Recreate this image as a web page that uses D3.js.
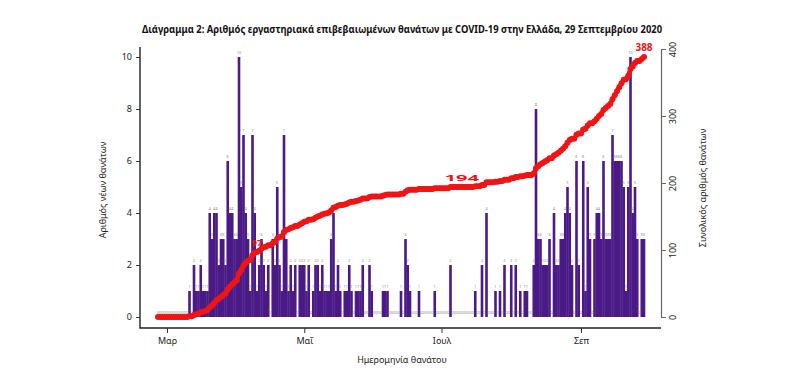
<!DOCTYPE html>
<html><head><meta charset="utf-8">
<script src="https://cdn.jsdelivr.net/npm/d3@7"></script>
<style>body{margin:0;background:#fff} svg{display:block}</style>
</head><body>
<svg id="c" width="804" height="375"></svg>
<script>
const title = "Διάγραμμα 2: Αριθμός εργαστηριακά επιβεβαιωμένων θανάτων με COVID-19 στην Ελλάδα, 29 Σεπτεμβρίου 2020";
const xAxisTitle = "Ημερομηνία θανάτου";
const yLeftTitle = "Αριθμός νέων θανάτων";
const yRightTitle = "Συνολικός αριθμός θανάτων";
const startDate = "2020-02-26";
// daily new deaths, one value per day from 26 Feb to 29 Sep 2020
const dailyDeaths = [
 0,0,0,0, 0,0,0,0,0,0,0,0,0,0,
 1,0,2,1,1,2,1,1,1,4,
 3,4,4,2,3,3,2,6,4,4,
 3,3,10,5,7,4,3,1,7,4,
 1,2,3,2,1,2,0,3,2,5,
 2,1,7,3,1,2,1,2,0,2,
 2,2,1,2,0,1,2,2,1,2,
 1,1,1,3,4,1,2,1,0,1,
 1,2,1,0,1,1,1,2,0,0,
 2,1,0,0,0,0,1,1,1,0,
 0,0,0,0,1,0,3,2,1,0,
 0,0,1,0,0,0,0,0,0,1,
 0,0,0,0,0,0,2,0,0,0,
 0,0,0,0,0,0,0,1,0,0,
 2,0,4,0,0,0,1,0,1,0,
 2,0,0,2,0,2,0,1,0,1,
 1,0,0,2,8,3,3,2,2,2,
 3,0,4,2,2,3,3,4,5,4,
 2,0,6,2,0,6,1,5,3,0,
 3,4,4,3,6,3,3,3,7,6,
 6,6,6,5,1,5,10,4,5,3,
 0,3,3
];
const xTickDates = ["2020-03-01","2020-05-01","2020-07-01","2020-09-01"];
const xTickLabels = ["Μαρ","Μαΐ","Ιουλ","Σεπ"];
const leftTicks = [0,2,4,6,8,10];
const rightTicks = [0,100,200,300,400];
const milestoneValues = [97,194,388];

const parse = d3.utcParse("%Y-%m-%d");
const t0 = parse(startDate);
const days = dailyDeaths.map((v,i)=>({date:d3.utcDay.offset(t0,i), v}));
const cum = d3.cumsum(dailyDeaths);
days.forEach((d,i)=>d.c=cum[i]);

const svg = d3.select("#c");
const x = d3.scaleUtc().domain([parse("2020-03-01"), parse("2020-09-01")]).range([167,581]);
const yL = d3.scaleLinear().domain([0,10]).range([317,57]);
const yR = d3.scaleLinear().domain([0,400]).range([317,49]);
const font = "'Noto Sans', 'Open Sans', sans-serif";
const purple = "#4a1a86";
const red = "#f01414";

// bars
const bw = 2.6;
svg.append("g").selectAll("rect").data(days.filter(d=>d.v>0)).join("rect")
  .attr("x", d=>x(d.date)-bw/2).attr("width", bw)
  .attr("y", d=>yL(d.v)).attr("height", d=>yL(0)-yL(d.v))
  .attr("fill", purple);

// value labels
svg.append("g").selectAll("text").data(days).join("text")
  .attr("x", d=>x(d.date)).attr("y", d=>yL(d.v)-3.5)
  .attr("text-anchor","middle").attr("font-size","4px").attr("font-family",font)
  .attr("fill","#8a8a8a").text(d=>d.v);

// cumulative line
const line = d3.line().x(d=>x(d.date)).y(d=>yR(d.c));
svg.append("path").datum(days).attr("d", line).attr("fill","none")
  .attr("stroke", red).attr("stroke-width", 4.5).attr("stroke-linejoin","round");
svg.append("g").selectAll("circle").data(days).join("circle")
  .attr("cx", d=>x(d.date)).attr("cy", d=>yR(d.c)).attr("r", 3).attr("fill", red);

// milestone labels: one label per milestone, spread over the days at that total
const groups = milestoneValues.map(m=>days.filter(d=>d.c===m)).filter(g=>g.length);
svg.append("g").selectAll("text").data(groups).join("text")
  .each(function(g){
    const x1 = x(g[0].date), x2 = x(g[g.length-1].date);
    const s = d3.select(this)
      .attr("x",(x1+x2)/2).attr("y", yR(g[0].c)-6)
      .attr("text-anchor","middle").attr("font-size", g[0].c===388?"10px":"9px")
      .attr("font-weight","bold").attr("font-family",font).attr("fill", red).text(g[0].c);
    if (g.length>2) s.attr("textLength", x2-x1+12).attr("lengthAdjust","spacingAndGlyphs");
  });

// box (L shape)
svg.append("path").attr("d","M140,47V328H661").attr("fill","none").attr("stroke","#222").attr("stroke-width",1.4);

// left axis
const gL = svg.append("g").attr("transform","translate(140,0)")
  .call(d3.axisLeft(yL).tickValues(leftTicks).tickSize(4).tickPadding(4));
gL.select(".domain").remove();
gL.selectAll("line").attr("stroke","#333");
gL.selectAll("text").attr("font-family",font).attr("font-size","9px").attr("fill","#222");

// right axis
const gR = svg.append("g").attr("transform","translate(661,0)")
  .call(d3.axisRight(yR).tickValues(rightTicks).tickSize(5).tickSizeOuter(0).tickPadding(0));
gR.select(".domain").attr("stroke","#666").attr("stroke-width",1.2);
gR.selectAll("line").attr("stroke","#666");
gR.selectAll("text").attr("font-family",font).attr("font-size","9px").attr("fill","#222")
  .attr("x",0).attr("dy",null).attr("text-anchor","middle")
  .attr("transform","translate(15,0) rotate(-90)");

// bottom axis
const gB = svg.append("g").attr("transform","translate(0,328)")
  .call(d3.axisBottom(x).tickValues(xTickDates.map(parse)).tickFormat((d,i)=>xTickLabels[i]).tickSize(5).tickPadding(5));
gB.select(".domain").remove();
gB.selectAll("line").attr("stroke","#333");
gB.selectAll("text").attr("font-family",font).attr("font-size","9px").attr("fill","#222");

// titles
svg.append("text").attr("x",402).attr("y",33).attr("text-anchor","middle")
  .attr("font-family",font).attr("font-weight","bold").attr("font-size","10.5px").attr("fill","#111")
  .attr("textLength",520).attr("lengthAdjust","spacingAndGlyphs").text(title);
svg.append("text").attr("x",402).attr("y",363).attr("text-anchor","middle")
  .attr("font-family",font).attr("font-size","9px").attr("fill","#222").text(xAxisTitle);
svg.append("text").attr("transform","translate(106,190) rotate(-90)").attr("text-anchor","middle")
  .attr("font-family",font).attr("font-size","9px").attr("fill","#222").text(yLeftTitle);
svg.append("text").attr("transform","translate(706,188) rotate(-90)").attr("text-anchor","middle")
  .attr("font-family",font).attr("font-size","9px").attr("fill","#222").text(yRightTitle);
</script>
</body></html>
